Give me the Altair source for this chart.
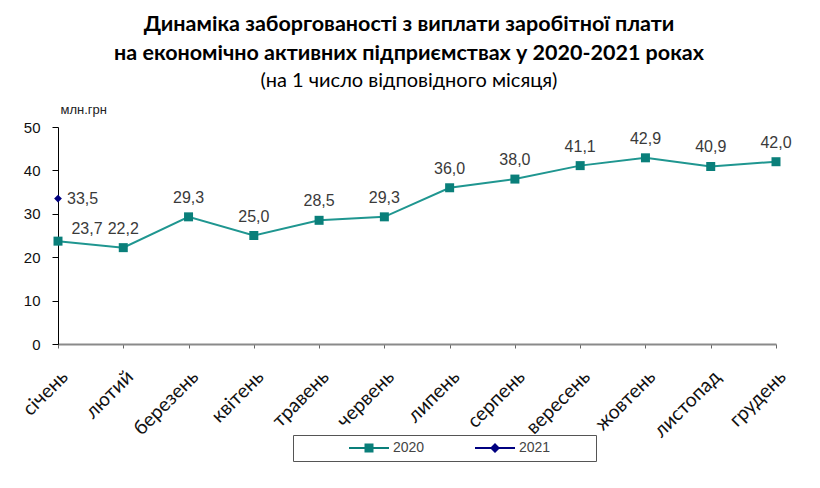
import altair as alt
import pandas as pd

months = ["січень", "лютий", "березень", "квітень", "травень", "червень",
          "липень", "серпень", "вересень", "жовтень", "листопад", "грудень"]
values_2020 = [23.7, 22.2, 29.3, 25.0, 28.5, 29.3, 36.0, 38.0, 41.1, 42.9, 40.9, 42.0]
months_2021 = ["січень"]
values_2021 = [33.5]
series_names = ["2020", "2021"]
y_ticks = [0, 10, 20, 30, 40, 50]

TEAL_LINE = "#1f9690"
TEAL_MARK = "#0a7f7a"
NAVY = "#000080"

df = pd.DataFrame({
    "month": months + months_2021,
    "value": values_2020 + values_2021,
    "series": ["2020"] * len(months) + ["2021"] * len(months_2021),
})

base = alt.Chart(df).transform_calculate(
    label="replace(format(datum.value, '.1f'), '.', ',')"
)

x_enc = alt.X("month:N", sort=months, scale=alt.Scale(type="point", padding=0),
              axis=alt.Axis(title=None, labelAngle=-45, labelAlign="right", labelBaseline="top",
                            labelPadding=19, labelFont="Lato", labelFontSize=19.5, labelColor="#111",
                            domainColor="#8a8a8a", domainWidth=2, tickColor="#666", tickSize=4))
y_enc = alt.Y("value:Q", scale=alt.Scale(domain=[0, 50], nice=False),
              axis=alt.Axis(title="млн.грн", values=y_ticks, grid=False, titleAngle=0,
                            titleAlign="left", titleBaseline="alphabetic", titleX=2, titleY=-14,
                            titleFont="Liberation Sans", titleFontSize=13, titleFontWeight="normal",
                            titleColor="#222", labelFont="Liberation Sans", labelFontSize=15,
                            labelColor="#111", labelPadding=12, domainColor="#000",
                            tickColor="#000", tickSize=6))

s2020 = base.transform_filter("datum.series == '2020'")
s2021 = base.transform_filter("datum.series == '2021'")

line = s2020.mark_line(color=TEAL_LINE, strokeWidth=2).encode(x=x_enc, y=y_enc)
pts2020 = s2020.mark_point(shape="square", filled=True, size=81, opacity=1,
                           color=TEAL_MARK).encode(x=x_enc, y=y_enc)
pts2021 = s2021.mark_point(shape="diamond", filled=True, size=60, opacity=1,
                           color=NAVY).encode(x=x_enc, y=y_enc)

lbl_style = dict(font="Liberation Sans", fontSize=16, color="#3a3a3a")
labels2020 = s2020.transform_filter("datum.month != 'січень'").mark_text(
    align="center", baseline="bottom", dy=-11, **lbl_style).encode(x=x_enc, y=y_enc, text="label:N")
labels_jan = s2020.transform_filter("datum.month == 'січень'").mark_text(
    align="center", baseline="bottom", dx=29, dy=-4, **lbl_style).encode(x=x_enc, y=y_enc, text="label:N")
labels2021 = s2021.mark_text(align="left", baseline="middle", dx=9, **lbl_style).encode(
    x=x_enc, y=y_enc, text="label:N")

sq_path = "M-4,-0.2H4V0.2H-4Z M-0.9,-0.9H0.9V0.9H-0.9Z"
dm_path = "M-4,-0.2H4V0.2H-4Z M0,-1L1,0L0,1L-1,0Z"

legend_params = dict(title="2021", titleOrient="right", titleOpacity=0, titlePadding=8,
                     titleFontSize=14, titleFont="Liberation Sans", titleFontWeight="normal")

legend_layer = base.mark_point(filled=True, clip=True, opacity=1).encode(
    x=x_enc,
    y=alt.value(-600),
    color=alt.Color("series:N", scale=alt.Scale(domain=series_names, range=[TEAL_MARK, NAVY]),
                    legend=alt.Legend(**legend_params)),
    shape=alt.Shape("series:N", scale=alt.Scale(domain=series_names, range=[sq_path, dm_path]),
                    legend=alt.Legend(**legend_params)),
)

chart = alt.layer(
    legend_layer, line, pts2020, pts2021, labels2020, labels_jan, labels2021
).properties(
    width=718,
    height=217,
    autosize=alt.AutoSizeParams(type="none"),
    padding={"left": 50, "top": 119, "right": 36, "bottom": 150},
    title=alt.TitleParams(
        text=["Динаміка заборгованості з виплати заробітної плати",
              "на економічно активних підприємствах у 2020-2021 роках"],
        subtitle="(на 1 число відповідного місяця)",
        font="Lato", fontSize=21.5, fontWeight="bold", color="#000", lineHeight=29,
        subtitleFont="Lato", subtitleFontSize=20, subtitleColor="#000", subtitlePadding=7,
        anchor="middle", frame="group", offset=12, dx=-8,
    ),
).configure_view(stroke=None).configure_legend(
    orient="none", legendX=235, legendY=308, direction="horizontal",
    strokeColor="#555", padding=6, symbolSize=100, symbolStrokeWidth=0,
    symbolOffset=63, labelOffset=17, columnPadding=0,
    labelFont="Liberation Sans", labelFontSize=14, labelColor="#444",
)

chart.save("out.html", embed_options={"renderer": "svg", "actions": False})
